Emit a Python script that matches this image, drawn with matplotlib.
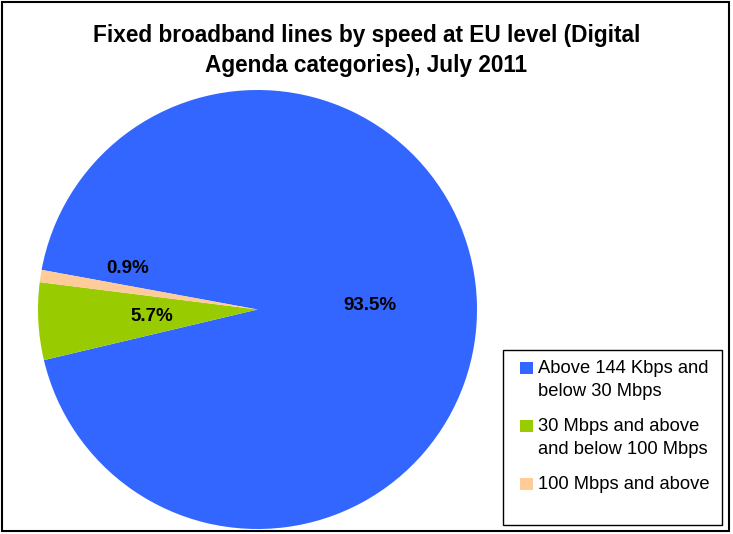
import matplotlib
matplotlib.use("Agg")
import matplotlib.pyplot as plt
from matplotlib.patches import Rectangle

# Digital Agenda speed categories, share of fixed broadband lines (%)
categories = [
    "Above 144 Kbps and\nbelow 30 Mbps",
    "30 Mbps and above\nand below 100 Mbps",
    "100 Mbps and above",
]
shares = [93.5, 5.7, 0.9]
colors = ["#3366FF", "#99CC00", "#FFCC99"]
title_lines = [
    "Fixed broadband lines by speed at EU level (Digital",
    "Agenda categories), July 2011",
]

plt.rcParams["font.family"] = ["Liberation Sans", "DejaVu Sans"]

W, H = 733, 534
fig = plt.figure(figsize=(W / 100, H / 100), dpi=100)

# pie centred at (257.5, 309.5) px with radius 219.5 px
cx, cy, r = 257.5, 309.5, 219.5
ax = fig.add_axes([(cx - r) / W, (H - cy - r) / H, 2 * r / W, 2 * r / H])
share_iter = iter(shares)
wedges, texts, autotexts = ax.pie(
    shares,
    colors=colors,
    startangle=169.6,
    counterclock=False,
    autopct=lambda p: f"{next(share_iter):.1f}%",
    pctdistance=0.5,
    textprops=dict(fontsize=13.5, fontweight="bold", color="black"),
    wedgeprops=dict(linewidth=0),
)
ax.set_xlim(-1, 1)
ax.set_ylim(-1, 1)
ax.set_aspect("equal")

# nudge labels: the tiny slice's label goes out into the blue area above it
autotexts[0].set_position((0.51, 0.02))
autotexts[1].set_position((-0.48, -0.03))
autotexts[2].set_position((-0.59, 0.185))

for i, line in enumerate(title_lines):
    fig.text(0.5, 1 - (42 + 30 * i) / H, line, ha="center", va="baseline",
             fontsize=16.3, fontweight="bold")

# legend box with entries drawn by hand (swatch next to first text line)
fig.patches.append(Rectangle((503 / W, 1 - 525 / H), 219 / W, 175 / H,
                             transform=fig.transFigure, fill=False,
                             edgecolor="black", linewidth=1.0))
line_step = 22.5
base = 373
for label, color in zip(categories, colors):
    fig.patches.append(Rectangle((520 / W, 1 - (base + 1) / H), 13 / W, 12 / H,
                                 transform=fig.transFigure, facecolor=color,
                                 edgecolor="none"))
    parts = label.split("\n")
    for j, part in enumerate(parts):
        fig.text(538 / W, 1 - (base + j * line_step) / H, part,
                 ha="left", va="baseline", fontsize=13.2)
    base += (len(parts) - 1) * line_step + 35.5

# outer chart border
fig.patches.append(Rectangle((1.5 / W, 3 / H), (W - 6) / W, (H - 5) / H,
                             transform=fig.transFigure, fill=False,
                             edgecolor="black", linewidth=1.5))

fig.savefig("out.png", dpi=100)
